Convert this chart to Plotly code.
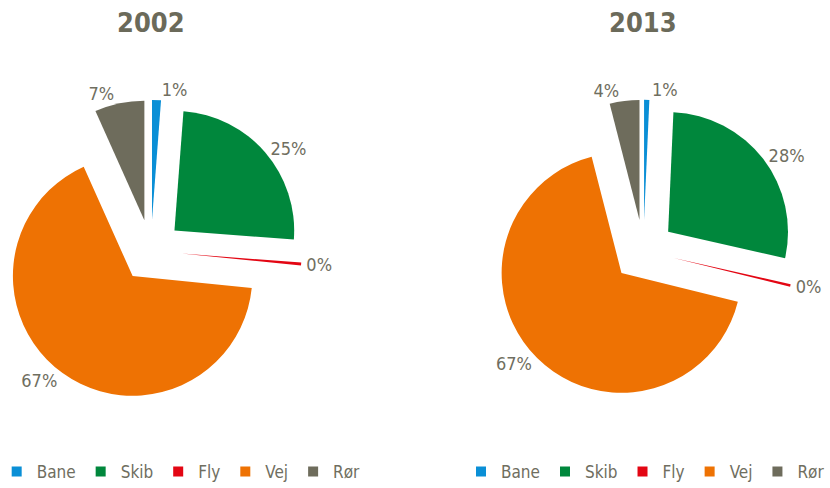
import plotly.graph_objects as go

categories = ["Bane", "Skib", "Fly", "Vej", "Rør"]
years = ["2002", "2013"]
values_2002 = [1.2, 25.0, 0.4, 66.7, 6.7]
values_2013 = [0.7, 27.8, 0.33, 67.1, 4.0]
colors = ["#0a8fd6", "#00873c", "#e30613", "#ee7203", "#6e6c5c"]

W, H = 830, 488
text_color = "#6f6e60"
font_family = "DejaVu Sans Condensed, Liberation Sans Narrow, Arial Narrow, sans-serif"

def dom(cx, cy, half):
    return dict(x=[max(0, (cx - half) / W), min(1, (cx + half) / W)],
                y=[(H - cy - half) / H, (H - cy + half) / H])

fig = go.Figure()
for i, (yr, vals) in enumerate(zip(years, [values_2002, values_2013])):
    cx = [150.7, 643.4][i]
    fig.add_trace(go.Pie(
        labels=categories, values=vals, sort=False, direction="clockwise", rotation=0,
        marker=dict(colors=colors, line=dict(width=0)),
        pull=[0.26] * len(categories),
        textposition="outside", texttemplate="%{percent:.0%}",
        textfont=dict(size=18, color=text_color, family=font_family),
        domain=dom(cx, 250.8, 151),
        showlegend=False,
        hoverinfo="label+percent",
    ))
    fig.add_annotation(text=f"<b>{yr}</b>", x=cx / W, y=1 - 23 / H, xref="paper", yref="paper",
                       showarrow=False, font=dict(size=27, color="#6b6a5a", family=font_family),
                       xanchor="center", yanchor="middle")

# legend entries (one legend per pie)
for li, lg in enumerate(["legend", "legend2"]):
    for cat, col in zip(categories, colors):
        fig.add_trace(go.Scatter(
            x=[None], y=[None], mode="markers", name=cat, legend=lg,
            marker=dict(symbol="square", size=10, color=col),
            hoverinfo="skip", legendgroup=cat,
        ))

leg = dict(orientation="h", font=dict(size=17, color=text_color, family=font_family),
           yanchor="bottom", y=-0.004, itemwidth=30, bgcolor="rgba(0,0,0,0)")
fig.update_layout(
    width=W, height=H, margin=dict(l=0, r=0, t=0, b=0, autoexpand=False),
    paper_bgcolor="white", plot_bgcolor="white",
    xaxis=dict(visible=False), yaxis=dict(visible=False),
    legend=dict(leg, x=-0.004, xanchor="left"),
    legend2=dict(leg, x=1.0, xanchor="right"),
)
fig.write_html("out.html", config={"displayModeBar": False},
               post_script="document.body.style.margin='0';")
